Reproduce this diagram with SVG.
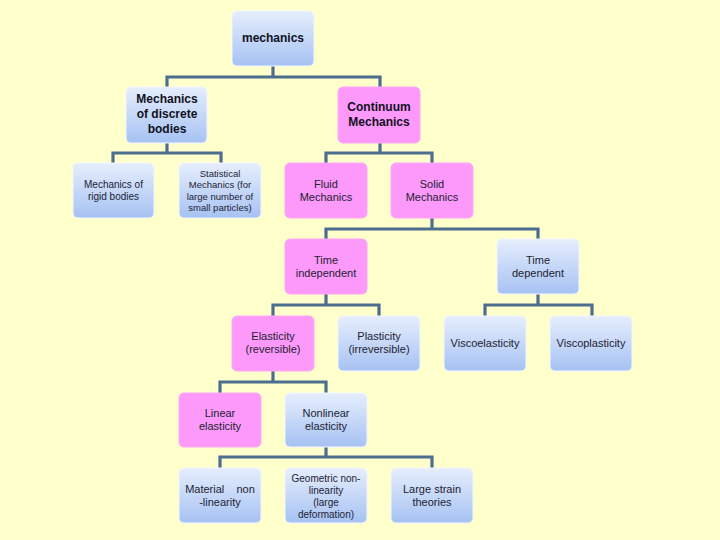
<svg xmlns="http://www.w3.org/2000/svg" width="720" height="540" viewBox="0 0 720 540">
<defs>
<linearGradient id="gb" x1="0" y1="0" x2="0" y2="1">
<stop offset="0" stop-color="#E6EEFD"/>
<stop offset="1" stop-color="#A6C2F3"/>
</linearGradient>
<style>
.b{fill:url(#gb);stroke:#F2F6FE;stroke-width:1}
.p{fill:#FC99FA;stroke:#FCA8FA;stroke-width:1}
.c{fill:none;stroke:#4C6E8E;stroke-width:3.2}
text{font-family:"Liberation Sans",Arial,sans-serif;font-size:11px;fill:#222233;text-anchor:middle}
.bd{font-weight:bold;font-size:12px;fill:#111122}
.s{font-size:9.5px}
.m{font-size:10px}
</style>
</defs>
<rect width="720" height="540" fill="#FFFFCC"/>
<g id="connectors">
<path class="c" d="M273 66V77M167 87V77H380V87"/>
<path class="c" d="M167 143V153M113 163V153H221V163"/>
<path class="c" d="M380 143V153M326 163V153H432V163"/>
<path class="c" d="M432 218V229M326 239V229H538V239"/>
<path class="c" d="M326 294V305M273 316V305H379V316"/>
<path class="c" d="M538 294V305M485 316V305H592V316"/>
<path class="c" d="M273 371V382M220 393V382H326V393"/>
<path class="c" d="M326 447V457M220 468V457H432V468"/>
</g>
<g id="mechanics"><rect class="b" x="232" y="11" width="82" height="55" rx="5"/><text class="bd" x="273" y="42">mechanics</text></g>
<g id="discrete"><rect class="b" x="126" y="87" width="81" height="56" rx="5"/><text class="bd" x="167" y="103">Mechanics</text><text class="bd" x="167" y="118">of discrete</text><text class="bd" x="167" y="133">bodies</text></g>
<g id="continuum"><rect class="p" x="338" y="87" width="82" height="56" rx="5"/><text class="bd" x="379" y="111">Continuum</text><text class="bd" x="379" y="126">Mechanics</text></g>
<g id="rigid"><rect class="b" x="73" y="163" width="81" height="55" rx="5"/><text class="m" x="113.5" y="188">Mechanics of</text><text class="m" x="113.5" y="200">rigid bodies</text></g>
<g id="statistical"><rect class="b" x="179" y="163" width="82" height="55" rx="5"/><text class="s" x="220" y="176.5">Statistical</text><text class="s" x="220" y="187.5">Mechanics (for</text><text class="s" x="220" y="199.5">large number of</text><text class="s" x="220" y="210.5">small particles)</text></g>
<g id="fluid"><rect class="p" x="285" y="163" width="82" height="55" rx="5"/><text x="326" y="188">Fluid</text><text x="326" y="201">Mechanics</text></g>
<g id="solid"><rect class="p" x="391" y="163" width="82" height="55" rx="5"/><text x="432" y="188">Solid</text><text x="432" y="201">Mechanics</text></g>
<g id="time-independent"><rect class="p" x="285" y="239" width="82" height="55" rx="5"/><text x="326" y="264">Time</text><text x="326" y="277">independent</text></g>
<g id="time-dependent"><rect class="b" x="497" y="239" width="82" height="55" rx="5"/><text x="538" y="264">Time</text><text x="538" y="277">dependent</text></g>
<g id="elasticity"><rect class="p" x="232" y="316" width="82" height="55" rx="5"/><text x="273" y="340">Elasticity</text><text x="273" y="353">(reversible)</text></g>
<g id="plasticity"><rect class="b" x="338" y="316" width="82" height="55" rx="5"/><text x="379" y="340">Plasticity</text><text x="379" y="353">(irreversible)</text></g>
<g id="viscoelasticity"><rect class="b" x="444" y="316" width="82" height="55" rx="5"/><text x="485" y="347">Viscoelasticity</text></g>
<g id="viscoplasticity"><rect class="b" x="550" y="316" width="82" height="55" rx="5"/><text x="591" y="347">Viscoplasticity</text></g>
<g id="linear"><rect class="p" x="179" y="393" width="82" height="54" rx="5"/><text x="220" y="417">Linear</text><text x="220" y="430">elasticity</text></g>
<g id="nonlinear"><rect class="b" x="285" y="393" width="82" height="54" rx="5"/><text x="326" y="417">Nonlinear</text><text x="326" y="430">elasticity</text></g>
<g id="material"><rect class="b" x="179" y="468" width="82" height="55" rx="5"/><text x="220" y="493" xml:space="preserve">Material    non</text><text x="220" y="506">-linearity</text></g>
<g id="geometric"><rect class="b" x="285" y="468" width="82" height="55" rx="5"/><text class="m" x="326" y="482">Geometric non-</text><text class="m" x="326" y="494">linearity</text><text class="m" x="326" y="506">(large</text><text class="m" x="326" y="518">deformation)</text></g>
<g id="large-strain"><rect class="b" x="391" y="468" width="82" height="55" rx="5"/><text x="432" y="493">Large strain</text><text x="432" y="506">theories</text></g>
</svg>
